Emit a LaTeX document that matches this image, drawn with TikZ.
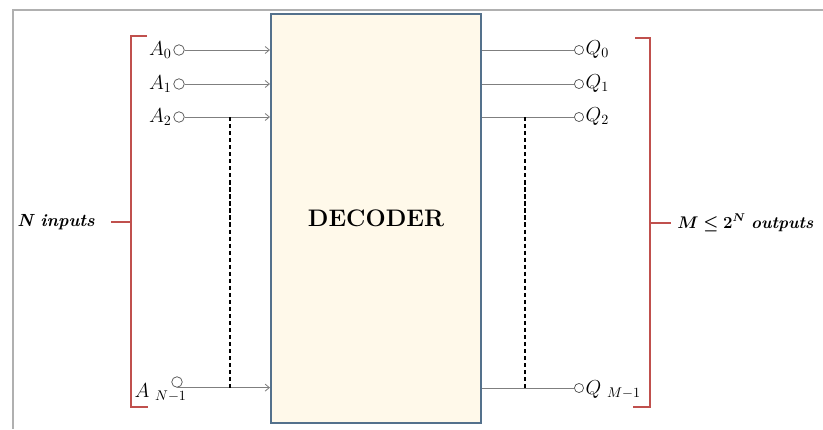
\documentclass[tikz,border=0pt]{standalone}
\usepackage{amsmath}
\usepackage{bm}
\usepackage{xcolor}
\usetikzlibrary{arrows.meta,positioning,calc}

\definecolor{boxline}{HTML}{54718C}
\definecolor{boxfill}{HTML}{FFF9EA}
\definecolor{bracered}{HTML}{C0504D}
\definecolor{wire}{HTML}{7F7F7F}
\definecolor{framegray}{HTML}{B0B0B0}

\tikzset{
    port/.style={circle, draw=black!70, line width=0.5pt, inner sep=0pt, minimum size=7.5pt},
    wirein/.style={draw=wire, line width=0.6pt, -{Straight Barb[length=3pt,width=5pt]}},
    wireout/.style={draw=wire, line width=0.6pt},
    dots/.style={draw=black, line width=0.8pt, dash pattern=on 3pt off 2pt},
    bracket/.style={draw=bracered, line width=0.8pt},
    portlabel/.style={inner sep=1pt, font=\fontsize{14}{16}\selectfont}
}

\begin{document}
\begin{tikzpicture}[x=0.025cm, y=-0.025cm]
    \useasboundingbox (0,0) rectangle (823,429);

    % Frame
    \draw[framegray, line width=1.4pt] (13,429) -- (13,10) -- (823,10);

    % Decoder block
    \node[draw=boxline, fill=boxfill, line width=1.4pt, minimum width=5.25cm, minimum height=10.225cm,
          font=\fontsize{17}{20}\selectfont\bfseries] (dec) at (376,218.5) {DECODER};

    % Inputs
    \node[port] (pa0) at (179,50) {};
    \node[port] (pa1) at (179,84) {};
    \node[port] (pa2) at (179,117) {};
    \node[port] (pan) at (177,382) {};
    \node[portlabel, left=0pt of pa0] (la0) {$A_0$};
    \node[portlabel, left=0pt of pa1] (la1) {$A_1$};
    \node[portlabel, left=0pt of pa2] (la2) {$A_2$};
    \node[portlabel, anchor=base west] (lan) at (133,397) {$A\;_{N-1}$};
    \draw[wirein] (pa0) -- (pa0 -| dec.west);
    \draw[wirein] (pa1) -- (pa1 -| dec.west);
    \draw[wirein] (pa2) -- (pa2 -| dec.west);
    \coordinate (wn) at (pan.south);
    \draw[wirein] (wn) -- (wn -| dec.west);

    % Outputs
    \node[port, minimum size=6.5pt] (pq0) at (579,50) {};
    \node[port, minimum size=6.5pt] (pq1) at (579,84) {};
    \node[port, minimum size=6.5pt] (pq2) at (579,117) {};
    \node[port, minimum size=6.5pt] (pqm) at (579,388) {};
    \node[portlabel, right=0pt of pq0] (lq0) {$Q_0$};
    \node[portlabel, right=0pt of pq1] (lq1) {$Q_1$};
    \node[portlabel, right=0pt of pq2] (lq2) {$Q_2$};
    \node[portlabel, anchor=base west] (lqm) at (584,394) {$Q\;_{M-1}$};
    \draw[wireout] (dec.east |- pq0) -- (pq0);
    \draw[wireout] (dec.east |- pq1) -- (pq1);
    \draw[wireout] (dec.east |- pq2) -- (pq2);
    \draw[wireout] (dec.east |- pqm) -- (pqm);

    % Dotted continuation
    \coordinate (dl) at (230,0);
    \coordinate (dr) at (525,0);
    \draw[dots] (dl |- pa2) -- (dl |- wn);
    \draw[dots] (dr |- pq2) -- (dr |- pqm);

    % Brackets
    \draw[bracket] (147,36) -- (131,36) -- (131,407) -- (148,407);
    \draw[bracket] (131,222) -- (111,222) coordinate (bl);
    \draw[bracket] (635,38) -- (650,38) -- (650,407) -- (633,407);
    \draw[bracket] (650,223) -- (671,223) coordinate (br);
    \node[left=8pt of bl, font=\fontsize{12.5}{14}\selectfont\bfseries\itshape] (nin) {N inputs};
    \node[right=1pt of br, font=\fontsize{12}{14}\selectfont] (mout) {$\bm{M \leq \mathbf{2}^{N}}$\ \textbf{\textit{outputs}}};
\end{tikzpicture}
\end{document}
